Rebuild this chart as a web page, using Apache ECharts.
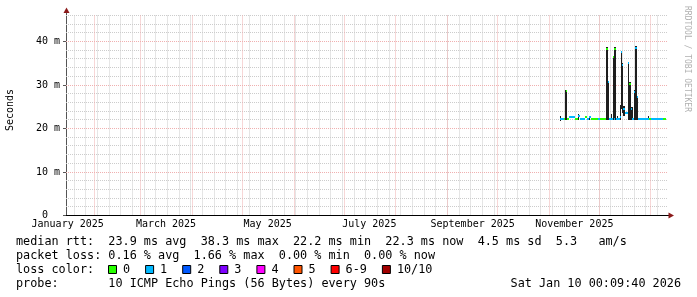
<!DOCTYPE html>
<html><head><meta charset="utf-8">
<script src="https://cdn.jsdelivr.net/npm/echarts@6/dist/echarts.min.js"></script>
<style>html,body{margin:0;padding:0;background:#fff;}#c{width:697px;height:297px;}</style>
</head><body><div id="c"></div>
<script>
// ---- data ----
const rangeStart = '2025-01-15 00:09:40';
const rangeEnd = '2026-01-10 00:09:40';
const yMax = 46;
const yTicks = [0, 10, 20, 30, 40];
const yMinorStep = 2;
const xLabelDates = ['2025-01-16', '2025-03-16', '2025-05-16', '2025-07-16', '2025-09-16', '2025-11-16'];
const xLabelTexts = ['January 2025', 'March 2025', 'May 2025', 'July 2025', 'September 2025', 'November 2025'];
const monthStarts = ['2025-02-01', '2025-03-01', '2025-04-01', '2025-05-01', '2025-06-01', '2025-07-01',
  '2025-08-01', '2025-09-01', '2025-10-01', '2025-11-01', '2025-12-01', '2026-01-01'];
const firstMonday = '2025-01-20';

// median rtt segments (ms) and packet loss count per segment
const medStart = ['2025-11-07 10:00','2025-11-09 19:00','2025-11-11 00:00','2025-11-11 14:00','2025-11-13 00:00','2025-11-16 14:00','2025-11-18 05:00','2025-11-19 10:00','2025-11-22 14:00','2025-11-23 10:00','2025-11-25 00:00','2025-11-26 05:00','2025-11-30 00:00','2025-12-01 10:00','2025-12-05 00:00','2025-12-06 05:00','2025-12-06 19:00','2025-12-09 00:00','2025-12-09 14:00','2025-12-10 00:00','2025-12-10 19:00','2025-12-13 10:00','2025-12-14 00:00','2025-12-14 19:00','2025-12-15 10:00','2025-12-16 14:00','2025-12-18 00:00','2025-12-19 00:00','2025-12-20 00:00','2025-12-20 19:00','2025-12-22 00:00','2025-12-22 14:00','2025-12-23 19:00','2025-12-24 10:00','2025-12-30 14:00','2025-12-31 19:00','2026-01-08 00:00'];
const medEnd = ['2025-11-09 19:00','2025-11-10 10:00','2025-11-11 14:00','2025-11-13 00:00','2025-11-16 14:00','2025-11-18 05:00','2025-11-19 10:00','2025-11-22 14:00','2025-11-23 10:00','2025-11-25 00:00','2025-11-26 05:00','2025-11-30 00:00','2025-12-01 10:00','2025-12-05 00:00','2025-12-06 05:00','2025-12-06 19:00','2025-12-09 00:00','2025-12-09 14:00','2025-12-10 00:00','2025-12-10 19:00','2025-12-13 10:00','2025-12-14 00:00','2025-12-14 19:00','2025-12-15 10:00','2025-12-16 14:00','2025-12-18 00:00','2025-12-19 00:00','2025-12-20 00:00','2025-12-20 19:00','2025-12-22 00:00','2025-12-22 14:00','2025-12-23 19:00','2025-12-24 10:00','2025-12-30 14:00','2025-12-31 19:00','2026-01-08 00:00','2026-01-10 00:00'];
const medValue = [22.3,22.3,28.6,22.3,22.6,22.3,23.0,22.3,22.6,22.3,22.6,22.3,22.3,22.3,38.4,30.8,22.3,36.5,22.3,38.4,22.3,22.6,37.5,34.7,24.6,23.6,35.1,30.3,24.5,22.3,28.5,38.6,27.2,22.3,22.3,22.3,22.3];
const medLoss = [1,0,0,0,1,0,1,1,0,1,1,0,1,0,0,1,1,0,1,0,1,1,1,1,1,1,1,0,1,1,1,1,1,1,0,1,0];

// smoke (ping spread) ranges in ms
const smokeStart = ['2025-11-07 10:00','2025-11-10 10:00','2025-11-18 05:00','2025-11-25 00:00','2025-12-05 00:00','2025-12-06 05:00','2025-12-07 19:00','2025-12-09 00:00','2025-12-10 00:00','2025-12-11 19:00','2025-12-13 10:00','2025-12-14 00:00','2025-12-14 19:00','2025-12-15 10:00','2025-12-18 00:00','2025-12-19 00:00','2025-12-20 00:00','2025-12-22 00:00','2025-12-22 14:00','2025-12-23 19:00','2025-12-30 05:00'];
const smokeEnd = ['2025-11-08 00:00','2025-11-11 14:00','2025-11-18 19:00','2025-11-25 14:00','2025-12-06 05:00','2025-12-06 19:00','2025-12-08 10:00','2025-12-09 14:00','2025-12-10 19:00','2025-12-12 10:00','2025-12-14 00:00','2025-12-14 19:00','2025-12-15 10:00','2025-12-16 14:00','2025-12-19 00:00','2025-12-20 00:00','2025-12-21 10:00','2025-12-22 14:00','2025-12-23 19:00','2025-12-24 10:00','2025-12-30 14:00'];
const smokeLow = [21.8,22.0,22.0,22.0,22.0,22.0,22.0,22.0,22.0,22.0,22.0,24.5,23.5,23.0,22.0,22.0,22.0,22.0,22.0,22.0,21.9];
const smokeHigh = [22.8,28.9,23.3,23.0,38.7,31.0,23.3,36.8,38.7,23.0,25.5,37.8,35.0,25.2,35.4,30.6,24.9,28.9,38.9,27.6,23.0];

const lossColors = ['#26ff00', '#00b8ff', '#0059ff', '#7e00ff', '#ff00ff', '#ff5500', '#ff0000', '#a10000'];
const lossLabels = ['0', '1', '2', '3', '4', '5', '6-9', '10/10'];
const legendLines = [
  'median rtt:  23.9 ms avg  38.3 ms max  22.2 ms min  22.3 ms now  4.5 ms sd  5.3   am/s',
  'packet loss: 0.16 % avg  1.66 % max  0.00 % min  0.00 % now',
  'loss color:',
  'probe:       10 ICMP Echo Pings (56 Bytes) every 90s'
];
const stampText = 'Sat Jan 10 00:09:40 2026';
const yAxisTitle = 'Seconds';
const watermark = 'RRDTOOL / TOBI OETIKER';

// ---- chart ----
const P = s => +echarts.time.parse(s);
const tMin = P(rangeStart), tMax = P(rangeEnd);
const G = { left: 66, right: 31, top: 15.5, bottom: 81.5 };
const MONO = '"DejaVu Sans Mono", monospace';
const MINOR = '#cccccc', MAJOR = '#f0b0b0';

const weekLines = [];
for (let t = P(firstMonday); t < tMax; t += 7 * 86400000) weekLines.push(t);
const yMinor = [], yMajor = [];
for (let v = yMinorStep; v <= yMax; v += yMinorStep) (v % 10 === 0 ? yMajor : yMinor).push(v);

function vLine(color) {
  return function (params, api) {
    const cs = params.coordSys;
    const p = api.coord([api.value(0), 0]);
    const x = Math.floor(p[0]) + 0.5;
    return { type: 'line', silent: true, shape: { x1: x, y1: cs.y, x2: x, y2: cs.y + cs.height },
      style: { stroke: color, lineWidth: 1, lineDash: [1, 1] } };
  };
}
function hLine(color) {
  return function (params, api) {
    const cs = params.coordSys;
    const p = api.coord([tMin, api.value(1)]);
    const y = Math.floor(p[1]) + 0.5;
    return { type: 'line', silent: true, shape: { x1: cs.x, y1: y, x2: cs.x + cs.width + 2, y2: y },
      style: { stroke: color, lineWidth: 1, lineDash: [1, 1] } };
  };
}

const chart = echarts.init(document.getElementById('c'), null, { renderer: 'canvas' });
const lblIdx = {};
xLabelDates.forEach((d, i) => { lblIdx[P(d)] = xLabelTexts[i]; });

const graphics = [];
legendLines.forEach((s, i) => {
  graphics.push({ type: 'text', x: 16, y: 241.5 + i * 14, silent: true,
    style: { text: s, font: '11.8px ' + MONO, fill: '#000', verticalAlign: 'middle' } });
});
graphics.push({ type: 'text', x: 681, y: 241.5 + 3 * 14, silent: true,
  style: { text: stampText, font: '11.8px ' + MONO, fill: '#000', align: 'right', verticalAlign: 'middle' } });
let bx = 108;
lossLabels.forEach((l, i) => {
  graphics.push({ type: 'rect', shape: { x: bx + 0.5, y: 265.5, width: 8, height: 8 }, silent: true,
    style: { fill: lossColors[i], stroke: '#000', lineWidth: 1 } });
  graphics.push({ type: 'text', x: bx + 15, y: 269.5, silent: true,
    style: { text: l, font: '11.8px ' + MONO, fill: '#000', verticalAlign: 'middle' } });
  bx = bx + 15 + l.length * 7.1 + 15;
});
graphics.push({ type: 'text', x: 10.5, y: 110, rotation: Math.PI / 2, silent: true,
  style: { text: yAxisTitle, font: '10px ' + MONO, fill: '#000', align: 'center', verticalAlign: 'middle' } });
graphics.push({ type: 'text', x: 687, y: 59, rotation: -Math.PI / 2, silent: true,
  style: { text: watermark, font: '8px ' + MONO, fill: '#b0b0b0', align: 'center', verticalAlign: 'middle' } });
graphics.push({ type: 'line', silent: true, shape: { x1: 666, y1: 215.5, x2: 669, y2: 215.5 }, style: { stroke: '#000', lineWidth: 1 } });
graphics.push({ type: 'polygon', silent: true, shape: { points: [[668.5, 212.5], [668.5, 218.5], [674, 215.5]] }, style: { fill: '#8b1a1a' } });
graphics.push({ type: 'line', silent: true, shape: { x1: 66.5, y1: 15.5, x2: 66.5, y2: 12 }, style: { stroke: '#555', lineWidth: 1 } });
graphics.push({ type: 'polygon', silent: true, shape: { points: [[63.5, 13], [69.5, 13], [66.5, 7.5]] }, style: { fill: '#8b1a1a' } });

chart.setOption({
  animation: false,
  backgroundColor: '#fff',
  grid: G,
  xAxis: {
    type: 'value', min: tMin, max: tMax, scale: true,
    axisLine: { show: true, onZero: false, lineStyle: { color: '#000', width: 1 } },
    axisTick: { show: false },
    splitLine: { show: false },
    axisLabel: {
      customValues: xLabelDates.map(P),
      formatter: v => lblIdx[v] || '',
      fontFamily: MONO, fontSize: 10, color: '#000', margin: 4, hideOverlap: false
    }
  },
  yAxis: {
    type: 'value', min: 0, max: yMax,
    axisLine: { show: true, lineStyle: { color: '#555', width: 1 } },
    axisTick: { show: true, length: 3, customValues: yTicks, lineStyle: { color: '#555' } },
    splitLine: { show: false },
    axisLabel: {
      customValues: yTicks,
      formatter: v => (v === 0 ? '0  ' : v + ' m'),
      fontFamily: MONO, fontSize: 10, color: '#000', margin: 6
    }
  },
  graphic: graphics,
  series: [
    { type: 'custom', z: 1, silent: true, data: weekLines.map(t => [t, 0]), encode: { x: 0, y: 1 }, renderItem: vLine(MINOR) },
    { type: 'custom', z: 1, silent: true, data: yMinor.map(v => [tMin, v]), encode: { x: 0, y: 1 }, renderItem: hLine(MINOR) },
    { type: 'custom', z: 1, silent: true, data: monthStarts.map(d => [P(d), 0]), encode: { x: 0, y: 1 }, renderItem: vLine(MAJOR) },
    { type: 'custom', z: 1, silent: true, data: yMajor.map(v => [tMin, v]), encode: { x: 0, y: 1 }, renderItem: hLine(MAJOR) },
    {
      type: 'custom', name: 'smoke', z: 2, silent: true,
      data: smokeStart.map((s, i) => [P(s), P(smokeEnd[i]), smokeLow[i], smokeHigh[i]]),
      encode: { x: [0, 1], y: [2, 3] },
      renderItem(params, api) {
        const a = api.coord([api.value(0), api.value(3)]);
        const b = api.coord([api.value(1), api.value(2)]);
        const x0 = Math.round(a[0]); let x1 = Math.round(b[0]); if (x1 <= x0) x1 = x0 + 1;
        const y0 = Math.round(a[1]); const y1 = Math.max(Math.round(b[1]), y0 + 1);
        return { type: 'rect', shape: { x: x0, y: y0, width: x1 - x0, height: y1 - y0 }, style: { fill: '#1e1e1e' } };
      }
    },
    {
      type: 'custom', name: 'median', z: 3, silent: true,
      data: medStart.map((s, i) => [P(s), P(medEnd[i]), medValue[i], medLoss[i]]),
      encode: { x: [0, 1], y: 2 },
      renderItem(params, api) {
        const a = api.coord([api.value(0), api.value(2)]);
        const b = api.coord([api.value(1), api.value(2)]);
        const x0 = Math.round(a[0]); let x1 = Math.round(b[0]); if (x1 <= x0) x1 = x0 + 1;
        const y = Math.round(a[1]);
        return { type: 'rect', shape: { x: x0, y: y - 1, width: x1 - x0, height: 2 }, style: { fill: lossColors[api.value(3)] } };
      }
    }
  ]
});
</script></body></html>
